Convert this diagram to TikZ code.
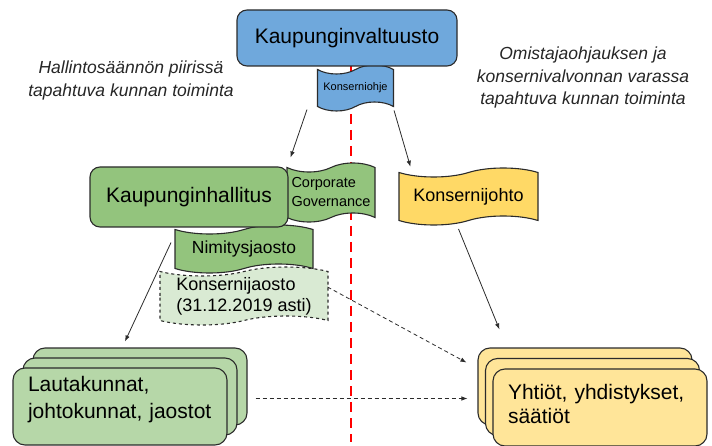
\documentclass[tikz,border=0pt]{standalone}
\usepackage{fontspec}
\setmainfont{Liberation Sans}
\usetikzlibrary{shapes.symbols,arrows.meta}

\definecolor{valtblue}{HTML}{6FA8DC}
\definecolor{hallgreen}{HTML}{93C47D}
\definecolor{lautgreen}{HTML}{B6D7A8}
\definecolor{palegreen}{HTML}{D9EAD3}
\definecolor{johtoyellow}{HTML}{FFD966}
\definecolor{yhtioyellow}{HTML}{FFE599}
\definecolor{outline}{HTML}{2B2B2B}

\tikzset{
  box/.style={draw=outline, line width=1.1pt, rounded corners=10pt, align=center, inner sep=0pt},
  stack/.style={box, rounded corners=12pt, minimum width=214pt, minimum height=77pt},
  flag/.style={tape, draw=outline, line width=1.1pt, tape bend height=9pt, inner sep=0pt, align=center},
  arr/.style={draw=outline, line width=0.8pt, -{Latex[length=6pt,width=4.5pt]}},
  darr/.style={arr, dash pattern=on 4pt off 3pt},
  divider/.style={red, line width=2.6pt, dash pattern=on 10pt off 6pt},
  caption/.style={font=\fontsize{17.5}{22.5}\selectfont\itshape, align=center, text=black!85},
}

\begin{document}
\begin{tikzpicture}[x=1pt,y=-1pt]
  \useasboundingbox (0,0) rectangle (712,446);

  % dividing line
  \coordinate (divtop) at (351,66);
  \coordinate (divbot) at (351,442);
  \draw[divider] (divtop) -- (divbot);

  % captions
  \node[caption] (hallcap) at (131,80.5) {Hallintosäännön piirissä\\tapahtuva kunnan toiminta};
  \node[caption] (omiscap) at (583,77.5) {Omistajaohjauksen ja\\konsernivalvonnan varassa\\tapahtuva kunnan toiminta};

  % valtuusto
  \node[flag, fill=valtblue, minimum width=76pt, minimum height=46pt,
        font=\fontsize{11}{13}\selectfont] (ohje) at (355.5,88) {Konserniohje};
  \node[box, fill=valtblue, minimum width=220pt, minimum height=56pt,
        font=\fontsize{21}{25}\selectfont] (valt) at (347,38) {Kaupunginvaltuusto};

  % hallitus
  \node[flag, dashed, fill=palegreen, minimum width=168pt, minimum height=58pt, align=left,
        font=\fontsize{18}{21}\selectfont] (jaosto) at (244,296) {Konsernijaosto\\(31.12.2019 asti)};
  \node[flag, fill=hallgreen, minimum width=138pt, minimum height=48pt,
        font=\fontsize{17.5}{21}\selectfont] (nimit) at (244,249) {Nimitysjaosto};
  \node[flag, fill=hallgreen, minimum width=88pt, minimum height=59pt, align=left,
        font=\fontsize{14.5}{19}\selectfont] (corp) at (331,192.5) {Corporate\\Governance};
  \node[box, fill=hallgreen, minimum width=198pt, minimum height=60pt,
        font=\fontsize{21}{25}\selectfont] (hall) at (189,197) {Kaupunginhallitus};

  % konsernijohto
  \node[flag, fill=johtoyellow, minimum width=139pt, minimum height=57pt,
        font=\fontsize{18}{21}\selectfont] (johto) at (468.5,196.5) {Konsernijohto};

  % lautakunnat
  \node[stack, fill=lautgreen] (laut3) at (140,386.5) {};
  \node[stack, fill=lautgreen] (laut2) at (130,396.5) {};
  \node[stack, fill=lautgreen, align=left, text width=184pt, text depth=45pt,
        font=\fontsize{21}{27}\selectfont] (laut) at (120,406.5) {Lautakunnat,\\johtokunnat, jaostot};

  % yhtiot
  \node[stack, fill=yhtioyellow] (yht3) at (585,386.5) {};
  \node[stack, fill=yhtioyellow] (yht2) at (592.5,397) {};
  \node[stack, fill=yhtioyellow, align=left, text width=184pt, text depth=32pt,
        font=\fontsize{21}{24}\selectfont] (yht) at (600,407.5) {Yhtiöt, yhdistykset,\\säätiöt};

  % connectors
  \draw[arr] ([shift={(-10,3)}]ohje.south west) -- ([shift={(2,-9)}]hall.north east);
  \draw[arr] ([shift={(0,3)}]ohje.south east) -- ([shift={(12,-5)}]johto.north west);
  \draw[arr] ([shift={(-18,15)}]hall.south) -- ([shift={(-15,-6)}]laut3.north);
  \draw[arr] ([shift={(-10,8)}]johto.south) -- ([shift={(22,-18)}]yht3.north west);
  \draw[darr] ([shift={(-1,-9)}]jaosto.east) -- ([shift={(-11,-24)}]yht3.west);
  \draw[darr] ([shift={(28,-8)}]laut.east) -- ([shift={(-25,-9)}]yht.west);
\end{tikzpicture}
\end{document}
